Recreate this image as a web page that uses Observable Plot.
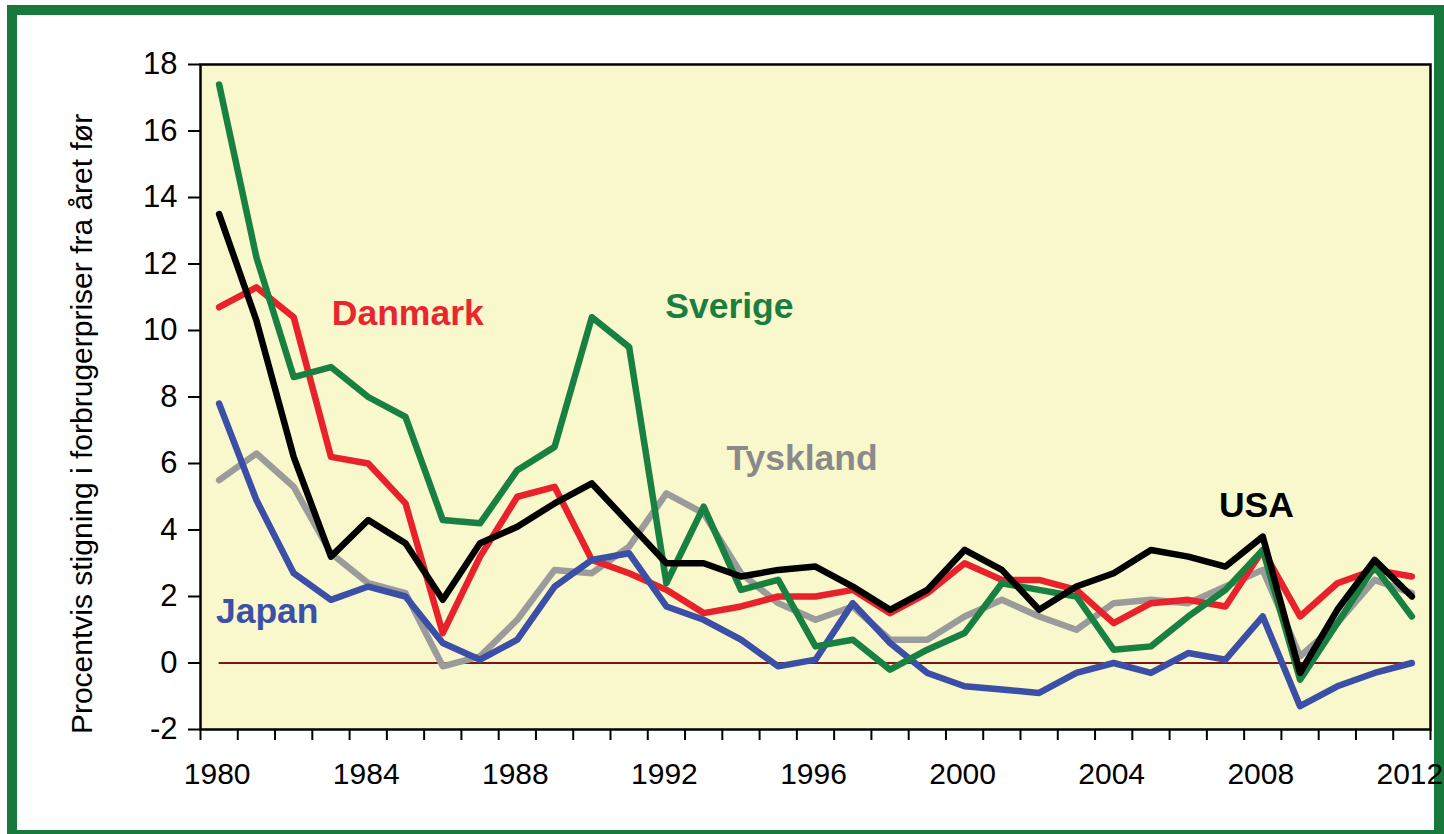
<!DOCTYPE html>
<html>
<head>
<meta charset="utf-8">
<script src="https://cdn.jsdelivr.net/npm/d3@7"></script>
<script src="https://cdn.jsdelivr.net/npm/@observablehq/plot@0.6"></script>
<style>
  html, body { margin: 0; padding: 0; background: #ffffff; overflow: hidden; }
  #page { position: relative; width: 1444px; height: 834px; overflow: hidden; }
  #border { position: absolute; left: 7px; top: 5px; width: 1417px; height: 815px; border: 10px solid #177a3c; z-index: 0; }
  #chart { position: absolute; left: 0; top: 0; z-index: 1; }
</style>
</head>
<body>
<div id="page">
  <div id="border"></div>
  <div id="chart"></div>
</div>
<script>
// ---- data ----
const years = d3.range(1980, 2013);
const danmark  = [10.7, 11.3, 10.4, 6.2, 6.0, 4.8, 0.9, 3.2, 5.0, 5.3, 3.1, 2.7, 2.2, 1.5, 1.7, 2.0, 2.0, 2.2, 1.5, 2.1, 3.0, 2.5, 2.5, 2.2, 1.2, 1.8, 1.9, 1.7, 3.4, 1.4, 2.4, 2.8, 2.6];
const sverige  = [17.4, 12.2, 8.6, 8.9, 8.0, 7.4, 4.3, 4.2, 5.8, 6.5, 10.4, 9.5, 2.4, 4.7, 2.2, 2.5, 0.5, 0.7, -0.2, 0.4, 0.9, 2.4, 2.2, 2.0, 0.4, 0.5, 1.4, 2.2, 3.4, -0.5, 1.2, 2.9, 1.4];
const tyskland = [5.5, 6.3, 5.3, 3.3, 2.4, 2.1, -0.1, 0.2, 1.3, 2.8, 2.7, 3.5, 5.1, 4.5, 2.7, 1.8, 1.3, 1.7, 0.7, 0.7, 1.4, 1.9, 1.4, 1.0, 1.8, 1.9, 1.8, 2.3, 2.8, 0.2, 1.2, 2.5, 2.1];
const japan    = [7.8, 4.9, 2.7, 1.9, 2.3, 2.0, 0.6, 0.1, 0.7, 2.3, 3.1, 3.3, 1.7, 1.3, 0.7, -0.1, 0.1, 1.8, 0.6, -0.3, -0.7, -0.8, -0.9, -0.3, 0.0, -0.3, 0.3, 0.1, 1.4, -1.3, -0.7, -0.3, 0.0];
const usa      = [13.5, 10.3, 6.2, 3.2, 4.3, 3.6, 1.9, 3.6, 4.1, 4.8, 5.4, 4.2, 3.0, 3.0, 2.6, 2.8, 2.9, 2.3, 1.6, 2.2, 3.4, 2.8, 1.6, 2.3, 2.7, 3.4, 3.2, 2.9, 3.8, -0.3, 1.6, 3.1, 2.0];

const yTicks = [-2, 0, 2, 4, 6, 8, 10, 12, 14, 16, 18];
const xTickLabels = [1980, 1984, 1988, 1992, 1996, 2000, 2004, 2008, 2012];
const yTitle = "Procentvis stigning i forbrugerpriser fra året før";

const seriesNames = ["Danmark", "Sverige", "Tyskland", "USA", "Japan"];
const labelYear  = [1985.06, 1993.69, 1995.64, 2007.83, 1981.29];
const labelValue = [10.17, 10.38, 5.79, 4.38, 1.19];

// ---- styling ----
const colors = {Danmark: "#e8212a", Sverige: "#188040", Tyskland: "#9b9b9b", USA: "#000000", Japan: "#3c4fa6"};
const labelColors = {Danmark: "#e8262e", Sverige: "#1a7e3f", Tyskland: "#8a8a8a", USA: "#000000", Japan: "#3c50a8"};
const seriesData = {Danmark: danmark, Sverige: sverige, Tyskland: tyskland, USA: usa, Japan: japan};
const drawOrder = ["Tyskland", "Danmark", "Japan", "Sverige", "USA"];

const boundaries = d3.range(years[0] - 0.5, years[years.length - 1] + 1, 1);

const lineMarks = drawOrder.map(name =>
  Plot.line(years, {
    x: d => d,
    y: (d, i) => seriesData[name][i],
    stroke: colors[name],
    strokeWidth: 6.5,
    strokeLinejoin: "round",
    strokeLinecap: "round",
    curve: "linear"
  })
);

const labelRows = seriesNames.map((n, i) => ({name: n, x: labelYear[i], y: labelValue[i]}));

const chart = Plot.plot({
  width: 1444,
  height: 834,
  marginLeft: 200,
  marginRight: 14,
  marginTop: 64,
  marginBottom: 105,
  x: {domain: [years[0] - 0.5, years[years.length - 1] + 0.5], label: null},
  y: {domain: [yTicks[0], yTicks[yTicks.length - 1]], label: null},
  style: {fontFamily: "'Liberation Sans', Arial, sans-serif", background: "transparent", color: "#000", overflow: "visible"},
  marks: [
    Plot.frame({fill: "#f9f7cc", stroke: "none"}),
    Plot.ruleY([0], {x1: years[0], x2: years[years.length - 1], stroke: "#7a1616", strokeWidth: 2}),
    ...lineMarks,
    Plot.frame({stroke: "#000", strokeWidth: 2.5}),
    Plot.axisY(yTicks, {anchor: "left", tickSize: 12, tickPadding: 11, fontSize: 31, strokeWidth: 2, tickFormat: d => String(d), label: null}),
    Plot.axisX(boundaries, {anchor: "bottom", tickSize: 11, strokeWidth: 2, fill: "none", tickFormat: () => "", label: null}),
    Plot.axisX(xTickLabels, {anchor: "bottom", tickSize: 0, tickPadding: 33, fontSize: 30, dx: -2, tickFormat: d => String(d), label: null}),
    Plot.text([yTitle], {frameAnchor: "left", rotate: -90, dx: -118, dy: 27, fontSize: 30, textAnchor: "middle", lineAnchor: "middle", fill: "#000", text: d => d}),
    Plot.text(labelRows, {
      x: "x", y: "y", text: "name",
      fill: d => labelColors[d.name],
      fontSize: 35.5, fontWeight: "bold",
      textAnchor: "middle", lineAnchor: "bottom"
    })
  ]
});

document.getElementById("chart").appendChild(chart);
</script>
</body>
</html>
